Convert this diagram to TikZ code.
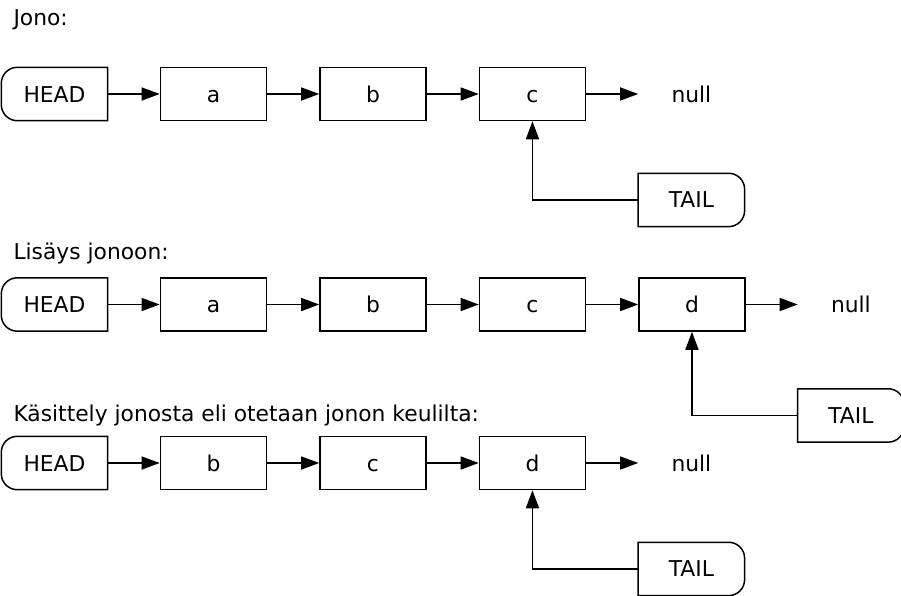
\documentclass[tikz,border=0pt]{standalone}
\usepackage{fontspec}
\setmainfont{DejaVu Sans}
\usetikzlibrary{positioning,arrows.meta}

\begin{document}
\begin{tikzpicture}[x=1pt,y=-1pt,node distance=52pt]
\tikzstyle{every node}=[font=\fontsize{21.8}{26}\selectfont]
\tikzstyle{ptr}=[minimum width=106pt,minimum height=53pt,inner sep=0pt,text height=17pt,text depth=1pt]
\tikzstyle{cell}=[ptr,draw,line width=1.5pt]
\tikzstyle{link}=[draw,line width=1.5pt,-{Triangle[length=18pt,width=13pt]}]

\useasboundingbox (0,0) rectangle (901,595);

% jono
\node[anchor=base west] (l1) at (10,25) {Jono:};
\node[ptr] (h1) at (54.5,94) {HEAD};
\node[cell,right=of h1] (a1) {a};
\node[cell,right=of a1] (b1) {b};
\node[cell,right=of b1] (c1) {c};
\node[ptr,right=of c1] (n1) {null};
\node[ptr,below right=52pt and 52pt of c1] (t1) {TAIL};

% lisays
\node[anchor=base west] (l2) at (10,259) {Lisäys jonoon:};
\node[ptr] (h2) at (54.5,304.5) {HEAD};
\node[cell,right=of h2] (a2) {a};
\node[cell,right=of a2] (b2) {b};
\node[cell,right=of b2] (c2) {c};
\node[cell,right=of c2] (d2) {d};
\node[ptr,right=of d2] (n2) {null};
\node[ptr,below right=57pt and 52pt of d2] (t2) {TAIL};

% kasittely
\node[anchor=base west] (l3) at (10,421.7) {Käsittely jonosta eli otetaan jonon keulilta:};
\node[ptr] (h3) at (54.5,463) {HEAD};
\node[cell,right=of h3] (b3) {b};
\node[cell,right=of b3] (c3) {c};
\node[cell,right=of c3] (d3) {d};
\node[ptr,right=of d3] (n3) {null};
\node[ptr,below right=52pt and 52pt of d3] (t3) {TAIL};

\foreach \h in {h1,h2,h3}
  \draw[line width=1.5pt] (\h.north east) -- (\h.south east) -- ([xshift=16pt]\h.south west)
    arc[start angle=-90,end angle=-180,radius=16pt] -- ([yshift=-16pt]\h.north west)
    arc[start angle=180,end angle=90,radius=16pt] -- cycle;
\foreach \t in {t1,t2,t3}
  \draw[line width=1.5pt] (\t.north west) -- (\t.south west) -- ([xshift=-16pt]\t.south east)
    arc[start angle=-90,end angle=0,radius=16pt] -- ([yshift=-16pt]\t.north east)
    arc[start angle=0,end angle=90,radius=16pt] -- cycle;

\foreach \u/\v in {h1/a1,a1/b1,b1/c1,c1/n1,h2/a2,a2/b2,b2/c2,c2/d2,d2/n2,h3/b3,b3/c3,c3/d3,d3/n3}
  \draw[link] (\u) -- (\v);
\draw[link] (t1.west) -| (c1.south);
\draw[link] (t2.west) -| (d2.south);
\draw[link] (t3.west) -| (d3.south);
\end{tikzpicture}
\end{document}
